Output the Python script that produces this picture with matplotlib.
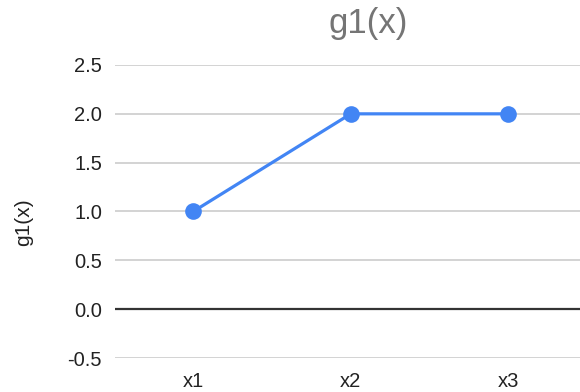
import matplotlib
matplotlib.use("Agg")
import matplotlib.pyplot as plt

plt.rcParams['font.family'] = ['Liberation Sans', 'DejaVu Sans']

categories = ["x1", "x2", "x3"]
values = [1.0, 2.0, 2.0]
y_ticks = [-0.5, 0.0, 0.5, 1.0, 1.5, 2.0, 2.5]
y_tick_labels = ["-0.5", "0.0", "0.5", "1.0", "1.5", "2.0", "2.5"]
title_text = "g1(x)"
y_label = "g1(x)"

W, H = 580, 392
fig = plt.figure(figsize=(W / 100, H / 100), dpi=100)
fig.patch.set_facecolor("white")

# plot area in pixel coordinates
left, right, top, bottom = 114.5, 587.0, 65.0, 358.0
ax = fig.add_axes([left / W, 1 - bottom / H, (right - left) / W, (bottom - top) / H])
ax.set_facecolor("white")

xpos = list(range(len(categories)))
ax.set_xlim(-0.5, len(categories) - 0.5)
ax.set_ylim(-0.5, 2.5)

# horizontal gridlines, with a darker baseline at zero
for t in y_ticks:
    if t == 0:
        ax.axhline(t, color="#333333", lw=1.6, zorder=2)
    else:
        ax.axhline(t, color="#cccccc", lw=1.2, zorder=1)

ax.plot(xpos, values, color="#4285f4", lw=2.3, marker="o", markersize=12,
        markeredgewidth=0, zorder=3, clip_on=False)

for s in ax.spines.values():
    s.set_visible(False)

ax.set_yticks(y_ticks)
ax.set_yticklabels(y_tick_labels)
ax.set_xticks(xpos)
ax.set_xticklabels(categories)
ax.tick_params(axis="both", length=0, labelsize=14.5, labelcolor="#222222")
ax.tick_params(axis="y", pad=9)
ax.tick_params(axis="x", pad=10)

ax.set_ylabel(y_label, fontsize=15, color="#222222")
ax.yaxis.set_label_coords((33 - left) / (right - left), (bottom - 222) / (bottom - top))

fig.text(368.5 / W, 1 - 23 / H, title_text, ha="center", va="center",
         fontsize=25, color="#757575")

fig.savefig("out.png", dpi=100, facecolor="white")
